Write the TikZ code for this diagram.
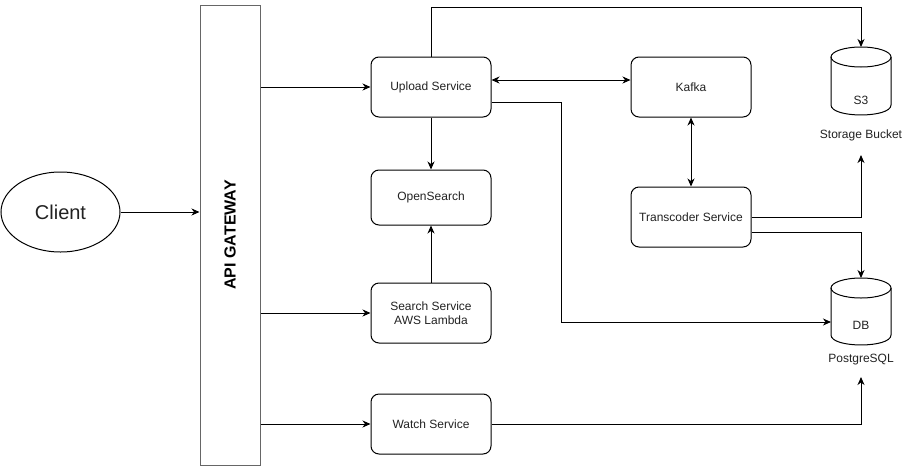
\documentclass[tikz,border=0pt]{standalone}
\usepackage{fontspec}
\setmainfont{Liberation Sans}
\usetikzlibrary{arrows.meta,shapes.geometric}
\definecolor{txt}{HTML}{222222}
\definecolor{gw}{HTML}{666666}
\begin{document}
\begin{tikzpicture}[x=1pt,y=-1pt,
  svc/.style={draw, rounded corners=8pt, minimum width=120pt, minimum height=60pt,
    font=\fontsize{12}{14}\selectfont, text=txt, align=center, inner sep=0pt, line width=1pt},
  lbl/.style={font=\fontsize{12}{14}\selectfont, text=txt, inner sep=0pt},
  arr/.style={-{Stealth[length=8pt,width=7pt,inset=2.5pt]}, line width=1pt},
  arrb/.style={{Stealth[length=8pt,width=7pt,inset=2.5pt]}-{Stealth[length=8pt,width=7pt,inset=2.5pt]}, line width=1pt},
  holder/.style={minimum width=60pt, inner sep=0pt, outer sep=0pt},
  cyl/.style={line width=1pt}]
\useasboundingbox (0,0) rectangle (907,466);

\node[draw, ellipse, minimum width=119pt, minimum height=80pt, line width=1pt,
  font=\fontsize{20}{24}\selectfont, text=txt] (client) at (60.5,212) {Client};

\node[draw=gw, minimum width=60pt, minimum height=460pt, line width=1pt, inner sep=0pt] (api) at (230,235) {};
\node[rotate=90, font=\fontsize{16}{19}\selectfont\bfseries] (apitxt) at (230,235) {API GATEWAY};

\node[svc] (upload) at (431,87) {Upload Service};
\node[svc, minimum height=55pt] (opensearch) at (431,197.5) {OpenSearch};
\node[svc] (search) at (431,313) {Search Service\\AWS Lambda};
\node[svc] (watch) at (431,424) {Watch Service};
\node[svc] (kafka) at (691,87) {Kafka};
\node[svc] (transcoder) at (691,217) {Transcoder Service};

% S3 cylinder
\node[holder, minimum height=68pt] (s3) at (861,81) {};
\draw[cyl] (831,57) -- (831,105) .. controls (831,118.3) and (891,118.3) .. (891,105) -- (891,57);
\draw[cyl] (861,57) ellipse[x radius=30pt, y radius=10pt];
\node[lbl] (s3txt) at (861,100) {S3};
\node[lbl] (s3lbl) at (861,135) {Storage Bucket};
\coordinate (s3end) at (861,155);

% DB cylinder
\node[holder, minimum height=67pt] (db) at (861,311.5) {};
\draw[cyl] (831,288) -- (831,335) .. controls (831,348.3) and (891,348.3) .. (891,335) -- (891,288);
\draw[cyl] (861,288) ellipse[x radius=30pt, y radius=10pt];
\node[lbl] (dbtxt) at (861,325) {DB};
\node[lbl] (dblbl) at (861,360) {PostgreSQL};
\coordinate (dbend) at (861,377);

% connectors
\draw[arr] (client.east) -- (client.east -| api.west);
\draw[arr] (api.east |- upload.west) -- (upload.west);
\draw[arr] (api.east |- search.west) -- (search.west);
\draw[arr] (api.east |- watch.west) -- (watch.west);

\draw[arr] (upload.north) -- ++(0,-49) -| (s3.north);
\draw[arrb] ([yshift=7pt]upload.east) -- ([yshift=7pt]kafka.west);
\draw[arr] ([yshift=-15pt]upload.east) -- ++(70,0) |- (db.west |- 0,322);
\draw[arr] (upload.south) -- (opensearch.north);
\draw[arr] (search.north) -- (opensearch.south);
\draw[arrb] (kafka.south) -- (transcoder.north);
\draw[arr] (transcoder.east) -| (s3end);
\draw[arr] ([yshift=-15pt]transcoder.east) -| (db.north);
\draw[arr] (watch.east) -| (dbend);
\end{tikzpicture}
\end{document}
